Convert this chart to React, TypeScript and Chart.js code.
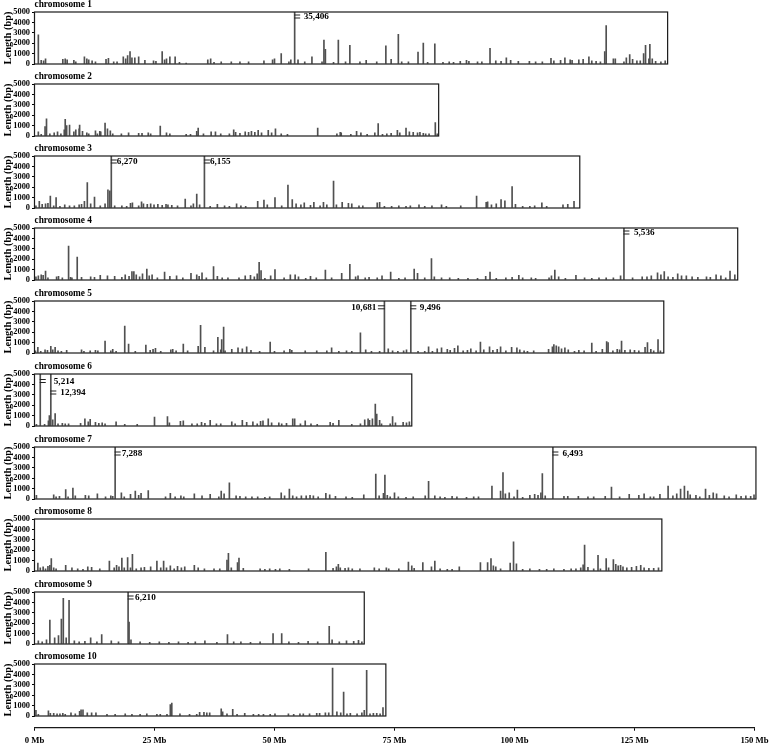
import React, { useEffect, useRef } from "react";
import { Chart, registerables } from "chart.js";

Chart.register(...registerables);

// ---------------- data ----------------
const chromosomeNames = [
  "chromosome 1", "chromosome 2", "chromosome 3", "chromosome 4", "chromosome 5",
  "chromosome 6", "chromosome 7", "chromosome 8", "chromosome 9", "chromosome 10",
];
const chromosomeLengthsMb = [131.9, 84.2, 113.6, 146.5, 131.1, 78.6, 150.3, 130.7, 68.7, 73.2];
const yTickValues = [0, 1000, 2000, 3000, 4000, 5000];
const mbTickValues = [0, 25, 50, 75, 100, 125, 150];
const yAxisMax = 5000;

// [position (Mb), length (bp)]
const chr1Gaps: [number, number][] = [
  [0.8, 2800], [1.4, 350], [1.9, 300], [2.3, 500], [5.9, 450], [6.4, 500], [6.8, 400], [8.2, 350], [8.6, 200],
  [10.4, 700], [10.9, 500], [11.3, 400], [12.0, 300], [12.7, 200], [14.9, 450], [15.4, 550], [16.5, 200], [17.2, 200],
  [18.5, 700], [19.0, 500], [19.4, 800], [19.9, 1200], [20.3, 600], [20.9, 600], [21.7, 700], [23.0, 350], [24.8, 300],
  [25.3, 250], [26.6, 1200], [27.1, 400], [27.5, 500], [28.2, 700], [29.3, 700], [30.2, 150], [31.6, 100], [36.1, 400],
  [36.7, 500], [37.4, 150], [38.9, 200], [41.0, 200], [42.8, 200], [44.6, 200], [47.8, 300], [49.6, 400], [50.0, 500],
  [51.4, 1000], [53.0, 200], [53.4, 400], [54.2, 35406], [54.9, 400], [56.3, 200], [57.8, 700], [59.9, 200], [60.3, 2300],
  [60.6, 1400], [62.3, 150], [63.3, 2300], [64.8, 200], [65.7, 1800], [67.8, 200], [69.1, 350], [71.3, 200], [73.2, 1750],
  [74.3, 450], [75.8, 2850], [76.5, 200], [77.9, 200], [79.9, 1150], [81.0, 2000], [81.9, 150], [83.4, 1950], [85.1, 150],
  [86.4, 200], [87.3, 150], [88.7, 250], [90.0, 350], [90.5, 250], [92.3, 200], [93.2, 200], [94.9, 1500], [96.1, 300],
  [97.2, 250], [98.3, 600], [99.2, 350], [100.8, 250], [103.1, 250], [104.4, 200], [105.8, 200], [107.6, 550], [108.2, 300],
  [109.6, 350], [110.5, 600], [111.6, 400], [112.0, 350], [113.4, 400], [114.3, 450], [115.5, 700], [116.1, 300], [117.0, 250],
  [117.9, 200], [118.8, 1200], [119.1, 3700], [120.6, 500], [121.0, 500], [122.8, 200], [123.3, 600], [124.0, 900], [124.6, 450],
  [125.5, 300], [126.2, 300], [126.9, 1000], [127.3, 1800], [128.0, 500], [128.2, 1900], [128.7, 500], [129.4, 250], [130.5, 200],
  [131.4, 300],
];
const chr2Gaps: [number, number][] = [
  [0.8, 400], [1.4, 150], [2.2, 900], [2.5, 1650], [3.2, 200], [4.1, 300], [4.8, 400], [5.5, 200], [6.2, 600], [6.4, 1600],
  [6.7, 1000], [7.3, 1050], [8.2, 400], [8.6, 600], [9.3, 700], [9.4, 1050], [10.0, 450], [10.9, 300], [11.3, 200], [12.7, 500],
  [13.1, 200], [13.6, 450], [13.8, 400], [14.7, 1250], [15.2, 700], [15.8, 500], [16.3, 200], [18.1, 200], [19.6, 300], [21.7, 250],
  [22.4, 250], [23.7, 300], [24.2, 200], [26.2, 950], [27.5, 300], [28.2, 200], [31.6, 150], [32.5, 150], [33.8, 450], [34.1, 750],
  [35.2, 200], [36.8, 400], [37.7, 400], [38.8, 200], [40.6, 200], [41.5, 600], [41.9, 350], [42.8, 250], [43.9, 400], [44.6, 350],
  [45.2, 450], [45.9, 350], [46.6, 550], [47.3, 300], [48.7, 550], [49.4, 300], [50.2, 700], [51.4, 200], [52.7, 150], [59.0, 750],
  [63.0, 200], [63.7, 350], [63.9, 300], [65.9, 150], [67.1, 450], [68.0, 300], [69.3, 150], [70.9, 300], [71.6, 1200], [72.5, 150],
  [73.4, 200], [74.3, 250], [75.6, 550], [76.1, 300], [77.4, 750], [78.1, 400], [78.9, 350], [79.8, 300], [80.3, 350], [81.0, 250],
  [81.5, 200], [82.2, 200], [83.5, 1300], [83.9, 200],
];
const chr3Gaps: [number, number][] = [
  [0.3, 200], [1.0, 650], [1.6, 350], [2.3, 400], [2.8, 450], [3.3, 1150], [4.0, 200], [4.5, 1000], [5.3, 150], [6.3, 300],
  [7.3, 200], [8.3, 200], [9.3, 300], [9.8, 350], [10.4, 650], [11.0, 2450], [11.7, 400], [12.5, 1050], [13.7, 200], [14.7, 400],
  [15.3, 1750], [15.7, 1650], [16.0, 6270], [16.7, 200], [18.2, 200], [19.2, 150], [20.0, 450], [20.4, 500], [21.7, 200], [22.3, 600],
  [22.7, 400], [23.5, 350], [24.2, 400], [24.9, 300], [25.7, 350], [26.6, 250], [27.4, 350], [27.8, 300], [28.6, 250], [29.8, 200],
  [31.4, 850], [32.6, 200], [33.1, 400], [33.8, 1350], [34.4, 300], [35.4, 6155], [36.6, 150], [38.1, 350], [39.6, 200], [40.6, 150],
  [42.1, 400], [43.0, 200], [44.0, 150], [46.5, 650], [47.8, 750], [48.5, 300], [50.1, 1000], [51.5, 200], [52.8, 2200], [53.7, 800],
  [54.5, 400], [55.5, 300], [56.2, 500], [57.5, 250], [58.2, 550], [59.5, 200], [60.2, 550], [60.9, 300], [62.3, 2600], [62.9, 300],
  [64.1, 550], [65.4, 450], [66.1, 400], [67.6, 200], [68.4, 200], [71.4, 500], [71.9, 550], [72.9, 150], [74.4, 150], [75.9, 200],
  [77.4, 150], [78.3, 200], [80.1, 300], [81.3, 150], [82.8, 200], [84.8, 300], [85.8, 150], [88.8, 200], [92.1, 1150], [94.1, 550],
  [94.4, 600], [95.2, 300], [96.2, 400], [97.2, 800], [98.0, 700], [99.5, 2050], [100.2, 350], [101.7, 150], [103.2, 150], [104.2, 200],
  [105.7, 500], [106.7, 150], [110.1, 300], [111.1, 350], [112.4, 650],
];
const chr4Gaps: [number, number][] = [
  [0.3, 300], [0.8, 400], [1.4, 500], [1.8, 450], [2.3, 850], [2.8, 200], [4.6, 300], [5.0, 350], [5.8, 200], [7.1, 3250],
  [7.5, 250], [7.8, 200], [8.9, 2200], [9.8, 250], [11.7, 300], [12.5, 250], [13.7, 450], [15.2, 400], [16.7, 350], [18.2, 250],
  [18.9, 500], [19.7, 350], [20.3, 800], [20.7, 800], [21.2, 500], [21.9, 300], [22.5, 600], [23.4, 1050], [23.9, 400], [24.5, 500],
  [25.6, 200], [27.1, 750], [28.2, 350], [29.6, 400], [30.9, 200], [32.6, 650], [33.8, 500], [34.3, 350], [34.9, 700], [35.8, 200],
  [37.3, 1300], [38.1, 350], [39.1, 200], [40.3, 200], [42.6, 200], [43.9, 400], [45.0, 450], [45.8, 300], [46.4, 600], [46.8, 1700],
  [47.2, 900], [48.0, 150], [49.2, 400], [50.1, 1000], [52.0, 200], [53.3, 500], [54.3, 500], [55.0, 300], [56.5, 150], [57.5, 350],
  [58.7, 200], [60.6, 950], [61.9, 200], [64.0, 650], [65.7, 1500], [66.9, 300], [67.4, 400], [68.9, 200], [69.7, 250], [71.4, 200],
  [72.4, 400], [74.2, 750], [75.9, 150], [77.2, 200], [79.1, 1050], [79.8, 650], [81.3, 200], [82.7, 2050], [83.3, 300], [84.8, 200],
  [86.5, 200], [88.3, 150], [90.3, 150], [92.3, 150], [94.0, 350], [94.9, 750], [96.2, 150], [98.2, 200], [99.5, 250], [100.9, 450],
  [101.7, 200], [103.5, 200], [104.4, 150], [107.2, 200], [107.7, 400], [108.4, 950], [109.2, 300], [110.6, 150], [112.8, 450], [114.6, 200],
  [116.1, 150], [117.6, 200], [119.1, 200], [120.6, 200], [122.1, 400], [122.8, 5536], [124.6, 200], [126.6, 300], [127.6, 300], [128.5, 400],
  [129.8, 700], [130.5, 500], [131.2, 800], [132.0, 300], [133.0, 250], [134.0, 600], [134.8, 400], [135.8, 400], [137.0, 300], [138.2, 250],
  [140.0, 300], [140.8, 250], [142.0, 500], [143.0, 400], [144.0, 200], [144.9, 850], [145.9, 500],
];
const chr5Gaps: [number, number][] = [
  [0.2, 200], [0.7, 550], [1.3, 150], [2.2, 300], [2.7, 250], [3.4, 650], [3.8, 300], [4.3, 550], [4.9, 200], [5.6, 150],
  [6.7, 250], [9.8, 300], [10.3, 150], [11.6, 200], [12.7, 250], [13.2, 200], [14.7, 1150], [15.9, 200], [16.3, 350], [17.0, 150],
  [18.8, 2600], [19.6, 850], [21.0, 150], [23.2, 750], [24.1, 250], [24.7, 350], [25.2, 450], [26.3, 150], [28.4, 300], [28.8, 350],
  [29.5, 200], [31.0, 850], [31.9, 200], [34.1, 650], [34.6, 2650], [35.5, 550], [37.3, 200], [38.2, 1500], [38.8, 300], [39.0, 1300],
  [39.4, 2500], [39.7, 200], [41.1, 350], [42.4, 500], [43.3, 400], [44.2, 600], [45.1, 250], [46.9, 150], [49.1, 1050], [50.0, 150],
  [52.0, 200], [53.2, 350], [53.6, 250], [56.4, 200], [58.8, 200], [60.9, 200], [61.9, 500], [63.4, 150], [65.0, 200], [66.1, 150],
  [67.9, 1950], [69.0, 300], [70.2, 150], [71.9, 150], [72.9, 10681], [73.7, 400], [74.6, 200], [75.7, 150], [76.9, 200], [77.5, 300],
  [78.4, 9496], [79.9, 150], [81.3, 150], [82.1, 600], [82.9, 150], [83.9, 400], [84.8, 500], [86.0, 350], [86.6, 250], [87.5, 450],
  [88.2, 700], [89.3, 200], [90.2, 250], [90.9, 400], [92.0, 200], [92.9, 1050], [93.6, 300], [94.8, 600], [95.5, 250], [96.4, 350],
  [97.1, 600], [98.2, 200], [99.4, 550], [100.5, 500], [101.1, 300], [102.0, 200], [102.7, 150], [104.0, 200], [107.1, 350], [107.9, 600],
  [108.2, 800], [108.7, 700], [109.2, 600], [109.8, 400], [110.5, 500], [111.2, 300], [112.5, 150], [113.4, 250], [114.5, 200], [116.1, 950],
  [117.0, 150], [118.3, 350], [119.2, 1100], [119.5, 1000], [120.5, 200], [121.4, 350], [121.9, 300], [122.3, 1150], [123.0, 250], [124.1, 300],
  [125.0, 250], [125.9, 200], [127.2, 550], [127.7, 1000], [128.4, 350], [129.0, 200], [129.9, 1300], [130.4, 200],
];
const chr6Gaps: [number, number][] = [
  [0.4, 150], [1.2, 5214], [2.1, 150], [2.9, 500], [3.1, 1000], [3.4, 12394], [3.8, 600], [4.3, 1200], [4.9, 200], [5.8, 250],
  [6.4, 200], [7.1, 200], [9.6, 250], [10.5, 700], [11.2, 400], [11.6, 650], [12.7, 350], [13.4, 250], [14.1, 300], [14.7, 200],
  [17.0, 400], [18.8, 150], [21.4, 150], [25.0, 850], [27.7, 900], [28.1, 300], [30.4, 450], [31.0, 500], [32.8, 200], [33.9, 200],
  [34.8, 350], [35.5, 250], [36.6, 550], [37.9, 200], [38.8, 200], [41.1, 400], [41.8, 200], [43.3, 550], [44.2, 350], [45.5, 400],
  [46.4, 200], [47.1, 450], [47.6, 500], [48.7, 700], [49.4, 300], [50.9, 300], [51.5, 200], [52.5, 250], [53.8, 700], [54.2, 700],
  [55.4, 200], [56.4, 500], [57.6, 200], [58.9, 150], [61.6, 350], [62.2, 250], [63.4, 550], [66.1, 150], [67.9, 200], [68.8, 600],
  [69.5, 700], [69.8, 550], [70.4, 700], [71.0, 2100], [71.3, 1150], [71.9, 550], [72.3, 200], [74.1, 200], [74.6, 900], [75.2, 300],
  [76.8, 350], [77.5, 300], [78.1, 400],
];
const chr7Gaps: [number, number][] = [
  [0.4, 350], [4.0, 400], [4.5, 200], [5.2, 250], [6.5, 900], [7.0, 200], [8.0, 1050], [8.5, 300], [10.6, 350], [11.3, 300],
  [13.1, 500], [14.8, 200], [15.9, 300], [16.3, 250], [16.8, 7288], [18.1, 600], [18.7, 200], [20.0, 450], [21.0, 750], [21.7, 350],
  [22.2, 550], [23.7, 800], [27.3, 200], [28.3, 550], [29.3, 200], [30.5, 300], [31.1, 200], [33.3, 500], [34.9, 300], [36.6, 450],
  [38.4, 200], [38.9, 750], [39.5, 500], [40.6, 1550], [42.0, 300], [42.8, 250], [44.0, 200], [45.3, 200], [46.5, 200], [48.0, 150],
  [49.0, 200], [51.4, 600], [52.1, 300], [53.1, 950], [53.8, 300], [54.6, 200], [55.6, 300], [56.6, 300], [57.4, 350], [58.1, 300],
  [59.1, 200], [60.7, 550], [61.5, 400], [62.7, 250], [64.9, 200], [66.2, 150], [68.6, 400], [71.1, 2400], [71.8, 300], [72.7, 550],
  [73.0, 2300], [73.5, 350], [74.1, 200], [75.0, 600], [75.8, 200], [77.4, 150], [78.9, 200], [81.4, 300], [82.1, 1700], [83.4, 300],
  [84.5, 200], [85.5, 150], [87.0, 250], [88.0, 200], [90.0, 150], [91.5, 200], [92.5, 200], [95.3, 1250], [97.1, 750], [97.6, 2550],
  [98.1, 500], [98.9, 600], [99.9, 200], [100.6, 850], [101.7, 150], [103.2, 350], [104.2, 450], [104.9, 350], [105.5, 600], [105.8, 2450],
  [106.4, 300], [108.0, 6493], [110.3, 250], [111.1, 250], [113.3, 250], [115.3, 200], [116.5, 200], [118.9, 250], [120.2, 1150], [121.9, 200],
  [123.9, 450], [125.9, 350], [127.0, 500], [128.3, 200], [129.0, 200], [130.3, 450], [132.0, 1250], [133.0, 300], [133.8, 500], [134.6, 950],
  [135.4, 1250], [136.1, 750], [136.6, 400], [137.8, 350], [138.6, 200], [139.8, 950], [140.6, 350], [141.4, 600], [142.1, 500], [143.7, 300],
  [144.7, 200], [146.2, 400], [147.2, 250], [148.2, 300], [149.2, 250], [149.9, 400],
];
const chr8Gaps: [number, number][] = [
  [0.7, 750], [1.2, 300], [1.8, 400], [2.3, 200], [2.8, 450], [3.2, 550], [3.5, 1200], [4.0, 300], [4.5, 200], [6.5, 550],
  [7.8, 300], [9.0, 200], [10.1, 150], [11.1, 400], [11.9, 350], [13.6, 200], [15.6, 950], [16.6, 300], [17.1, 550], [17.6, 400],
  [18.2, 1250], [18.7, 300], [19.4, 1300], [20.0, 300], [20.4, 1600], [21.2, 200], [22.2, 300], [22.9, 350], [24.2, 400], [25.5, 950],
  [26.3, 300], [26.9, 950], [27.5, 300], [28.3, 500], [29.1, 200], [29.8, 450], [30.6, 300], [31.3, 400], [33.3, 550], [34.1, 300],
  [35.4, 200], [37.4, 200], [38.6, 200], [40.1, 1050], [40.4, 1700], [41.0, 300], [42.3, 800], [42.6, 1250], [43.5, 250], [47.0, 200],
  [48.0, 150], [49.0, 200], [50.2, 150], [51.1, 200], [53.1, 150], [57.1, 200], [60.7, 1800], [62.2, 250], [62.9, 400], [63.3, 650],
  [63.7, 300], [64.7, 250], [65.4, 300], [66.2, 200], [67.8, 200], [70.8, 300], [71.8, 200], [73.3, 300], [73.8, 200], [75.9, 200],
  [77.9, 850], [78.6, 500], [79.1, 250], [80.9, 800], [82.7, 400], [83.4, 950], [84.5, 200], [86.0, 150], [87.0, 150], [88.5, 400],
  [92.9, 800], [94.4, 800], [95.1, 1200], [95.6, 500], [96.1, 400], [97.1, 200], [99.1, 750], [99.8, 2800], [100.4, 700], [101.7, 150],
  [103.2, 200], [105.2, 150], [106.7, 150], [108.2, 200], [110.3, 150], [111.8, 200], [112.8, 200], [113.8, 300], [114.3, 600], [114.6, 2500],
  [115.3, 350], [116.5, 200], [117.4, 1500], [117.9, 200], [119.1, 1200], [119.6, 300], [120.6, 1100], [121.1, 650], [121.6, 500], [122.1, 550],
  [122.6, 400], [123.4, 300], [124.4, 350], [125.4, 450], [126.3, 550], [127.0, 300], [128.0, 250], [129.0, 250], [130.0, 300],
];
const chr9Gaps: [number, number][] = [
  [0.8, 300], [1.6, 200], [2.5, 400], [3.2, 2300], [4.2, 600], [5.0, 800], [5.6, 2400], [6.0, 4400], [6.6, 600], [7.2, 4200],
  [8.3, 300], [9.3, 200], [10.5, 250], [11.7, 600], [13.0, 200], [14.0, 900], [16.0, 300], [17.5, 200], [19.5, 6210], [19.7, 2100],
  [20.1, 400], [22.0, 200], [24.0, 150], [26.0, 200], [28.0, 150], [30.0, 200], [32.0, 150], [33.5, 200], [35.5, 300], [38.0, 150],
  [40.2, 900], [41.5, 200], [43.0, 200], [45.0, 150], [47.0, 200], [49.7, 1000], [51.5, 1000], [53.0, 200], [55.0, 150], [57.0, 250],
  [59.0, 200], [61.4, 1700], [62.0, 400], [63.5, 200], [65.0, 300], [66.5, 250], [67.5, 350], [68.2, 200],
];
const chr10Gaps: [number, number][] = [
  [0.3, 550], [0.8, 150], [2.9, 500], [3.3, 250], [4.0, 250], [4.7, 200], [5.3, 200], [5.9, 250], [6.4, 150], [7.6, 300],
  [8.5, 200], [9.4, 450], [9.7, 600], [10.1, 600], [11.0, 300], [11.9, 300], [12.8, 300], [15.1, 150], [16.8, 150], [18.9, 200],
  [20.3, 150], [22.0, 150], [23.4, 200], [25.5, 150], [26.2, 150], [27.6, 150], [28.3, 1100], [28.6, 1250], [30.3, 200], [32.3, 150],
  [33.8, 150], [34.4, 350], [35.3, 350], [35.9, 300], [36.5, 300], [38.9, 700], [39.2, 400], [40.1, 200], [41.3, 650], [42.2, 150],
  [43.8, 250], [45.6, 150], [46.7, 150], [47.7, 150], [49.1, 150], [50.1, 200], [52.9, 200], [54.0, 150], [55.3, 200], [56.0, 200],
  [57.3, 200], [58.8, 250], [59.4, 250], [60.6, 300], [61.3, 300], [62.1, 4600], [63.0, 400], [63.8, 300], [64.4, 2300], [65.1, 200],
  [65.8, 250], [67.2, 200], [68.2, 300], [68.7, 550], [69.2, 4400], [69.9, 200], [70.6, 250], [71.3, 250], [72.0, 200], [72.6, 800],
];
const chromosomeGaps = [chr1Gaps, chr2Gaps, chr3Gaps, chr4Gaps, chr5Gaps, chr6Gaps, chr7Gaps, chr8Gaps, chr9Gaps, chr10Gaps];

// ---------------- layout / style ----------------
const FONT = "'Liberation Serif', 'Times New Roman', serif";
const PAGE_W = 778;
const AXIS_LEFT = 34.5;
const PX_PER_MB = 4.8;
const PLOT_H = 52;
const PAD_TOP = 12;
const CANVAS_H = 72;
const panelTops = [12, 84, 156, 228, 301, 374, 447, 519, 592, 664];
const BAR_COLOR = "#505050";

type BreakStyle = { side: "left" | "right"; markDy: number; labelDx: number };
const breakStyles: Record<string, BreakStyle> = {
  "0-0": { side: "right", markDy: 4.5, labelDx: 9 },
  "2-0": { side: "right", markDy: 5.5, labelDx: 5.5 },
  "2-1": { side: "right", markDy: 5.5, labelDx: 5.5 },
  "3-0": { side: "right", markDy: 4.5, labelDx: 10 },
  "4-0": { side: "left", markDy: 6.3, labelDx: 8 },
  "4-1": { side: "right", markDy: 6.3, labelDx: 9 },
  "5-0": { side: "right", markDy: 7, labelDx: 13.5 },
  "5-1": { side: "right", markDy: 18.5, labelDx: 9.5 },
  "6-0": { side: "right", markDy: 6.5, labelDx: 6.5 },
  "6-1": { side: "right", markDy: 6.5, labelDx: 9.5 },
  "8-0": { side: "right", markDy: 5.5, labelDx: 7 },
};

function ChromosomePanel({ index }: { index: number }) {
  const ref = useRef<HTMLCanvasElement>(null);
  const len = chromosomeLengthsMb[index];
  const plotRight = AXIS_LEFT + len * PX_PER_MB;
  const width = Math.min(PAGE_W, Math.ceil(plotRight) + 30);

  useEffect(() => {
    const canvas = ref.current;
    if (!canvas) return;
    const gaps = chromosomeGaps[index];
    const decor = {
      id: "panelDecor" + index,
      afterDatasetsDraw(chart: any) {
        const { ctx, chartArea } = chart;
        const xs = chart.scales.x;
        ctx.save();
        // plot box
        ctx.strokeStyle = "#1a1a1a";
        ctx.lineWidth = 1.2;
        ctx.strokeRect(chartArea.left, chartArea.top, chartArea.right - chartArea.left, chartArea.bottom - chartArea.top);
        // title
        ctx.fillStyle = "#000";
        ctx.font = `bold 9.3px ${FONT}`;
        ctx.textAlign = "left";
        ctx.textBaseline = "alphabetic";
        ctx.fillText(chromosomeNames[index], chartArea.left, chartArea.top - 4.6);
        // break marks for values beyond the axis maximum
        let k = 0;
        gaps.forEach(([pos, val]) => {
          if (val <= yAxisMax) return;
          const st = breakStyles[`${index}-${k}`] || { side: "right", markDy: 5.5, labelDx: 8 };
          k++;
          const bx = xs.getPixelForValue(pos);
          const my = chartArea.top + st.markDy;
          ctx.strokeStyle = "#222";
          ctx.lineWidth = 1;
          const x0 = st.side === "right" ? bx - 0.5 : bx - 6.5;
          const x1 = st.side === "right" ? bx + 5.5 : bx + 0.5;
          ctx.beginPath();
          ctx.moveTo(x0, my - 1.5);
          ctx.lineTo(x1, my - 1.5);
          ctx.moveTo(x0, my + 1.5);
          ctx.lineTo(x1, my + 1.5);
          ctx.stroke();
          ctx.fillStyle = "#000";
          ctx.font = `bold 9.2px ${FONT}`;
          ctx.textBaseline = "middle";
          ctx.textAlign = st.side === "right" ? "left" : "right";
          const lx = st.side === "right" ? bx + st.labelDx : bx - st.labelDx;
          ctx.fillText(val.toLocaleString("en-US"), lx, my + 0.5);
        });
        ctx.restore();
      },
    };

    const chart = new Chart(canvas, {
      type: "bar",
      data: {
        datasets: [
          {
            data: gaps.map(([x, y]) => ({ x, y })),
            backgroundColor: BAR_COLOR,
            borderWidth: 0,
            barThickness: 1,
            grouped: false,
          } as any,
        ],
      },
      options: {
        animation: false,
        responsive: false,
        devicePixelRatio: 1,
        layout: {
          padding: { top: PAD_TOP, bottom: CANVAS_H - PAD_TOP - PLOT_H, left: 0, right: width - plotRight },
        },
        plugins: { legend: { display: false }, tooltip: { enabled: false }, title: { display: false } },
        scales: {
          x: { type: "linear", min: 0, max: len, display: false, offset: false, grid: { offset: false } },
          y: {
            type: "linear",
            min: 0,
            max: yAxisMax,
            afterBuildTicks: (s: any) => {
              s.ticks = yTickValues.map((v) => ({ value: v }));
            },
            afterFit: (s: any) => {
              s.width = AXIS_LEFT;
            },
            ticks: {
              font: { family: FONT, size: 8.4, weight: "bold" },
              color: "#000",
              padding: 2,
              autoSkip: false,
              callback: (v: any) => String(v),
            },
            grid: { display: true, drawOnChartArea: false, drawTicks: true, tickLength: 2.5, color: "#000" },
            border: { display: true, color: "#1a1a1a", width: 1 },
            title: {
              display: true,
              text: "Length (bp)",
              font: { family: FONT, size: 10.4, weight: "bold" },
              color: "#000",
              padding: { top: 2.5, bottom: 0 },
            },
          },
        },
      } as any,
      plugins: [decor],
    });
    return () => chart.destroy();
  }, [index, width, plotRight, len]);

  return (
    <canvas
      ref={ref}
      width={width}
      height={CANVAS_H}
      style={{ position: "absolute", left: 0, top: panelTops[index] - PAD_TOP, display: "block" }}
    />
  );
}

function MbAxis() {
  const ref = useRef<HTMLCanvasElement>(null);
  const top = 705;
  const height = 40;
  const axisY = 727.7;
  useEffect(() => {
    const canvas = ref.current;
    if (!canvas) return;
    const right = AXIS_LEFT + 150 * PX_PER_MB;
    const chart = new Chart(canvas, {
      type: "scatter",
      data: { datasets: [{ data: [] }] },
      options: {
        animation: false,
        responsive: false,
        devicePixelRatio: 1,
        layout: { padding: { left: AXIS_LEFT, right: PAGE_W - right, top: 0, bottom: 0 } },
        plugins: { legend: { display: false }, tooltip: { enabled: false } },
        scales: {
          x: {
            type: "linear",
            min: 0,
            max: 150,
            afterBuildTicks: (s: any) => {
              s.ticks = mbTickValues.map((v) => ({ value: v }));
            },
            afterFit: (s: any) => {
              s.height = top + height - axisY;
            },
            ticks: {
              font: { family: FONT, size: 8.7, weight: "bold" },
              color: "#000",
              padding: 5,
              maxRotation: 0,
              autoSkip: false,
              callback: (v: any) => `${v} Mb`,
            },
            grid: { display: true, drawOnChartArea: false, drawTicks: true, tickLength: 3, color: "#000" },
            border: { display: true, color: "#1a1a1a", width: 1.2 },
          },
          y: { display: false, min: 0, max: 1 },
        },
      } as any,
    });
    return () => chart.destroy();
  }, []);
  return (
    <canvas ref={ref} width={PAGE_W} height={height} style={{ position: "absolute", left: 0, top, display: "block" }} />
  );
}

export default function App() {
  return (
    <div style={{ position: "absolute", left: 0, top: 0, width: PAGE_W, height: 745, overflow: "hidden", background: "#fff" }}>
      {chromosomeNames.map((_, i) => (
        <ChromosomePanel key={i} index={i} />
      ))}
      <MbAxis />
    </div>
  );
}
